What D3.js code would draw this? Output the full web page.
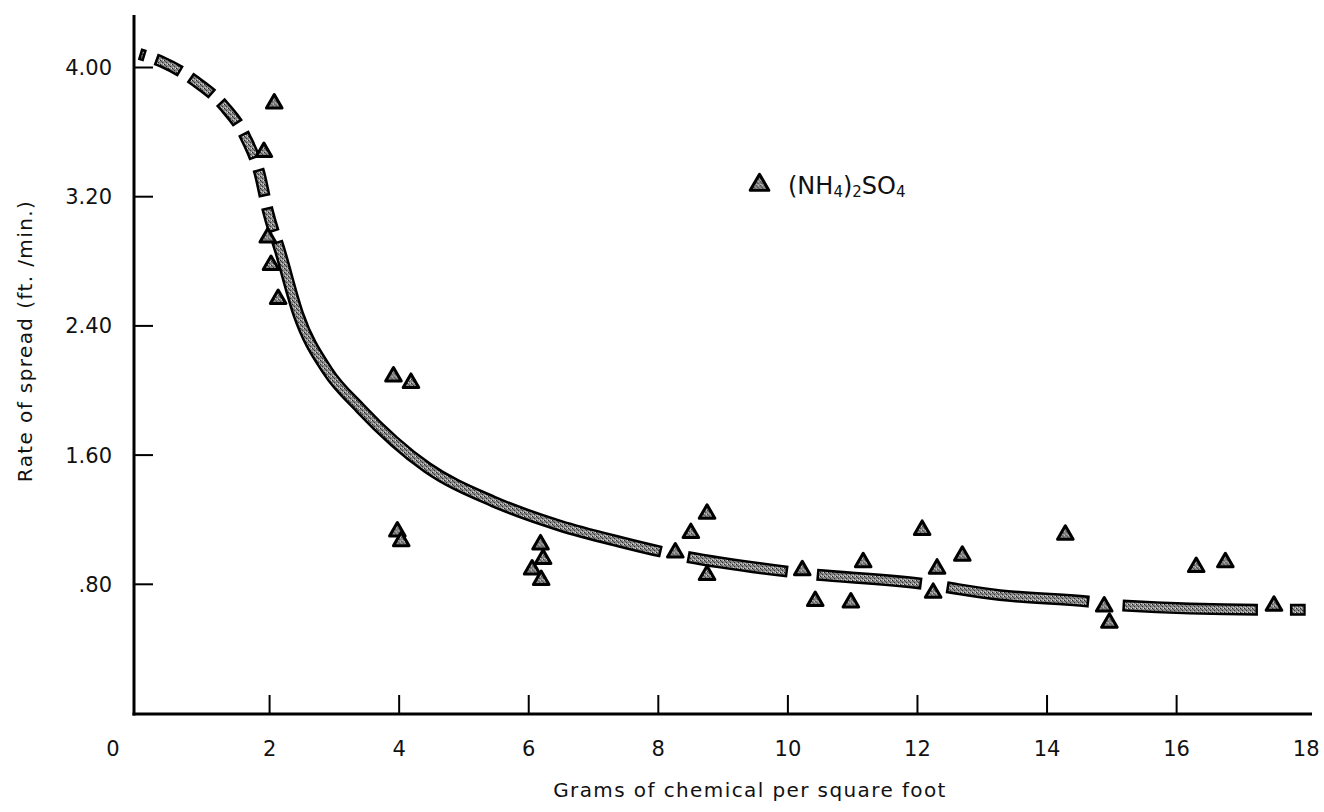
<!DOCTYPE html>
<html>
<head>
<meta charset="utf-8">
<script src="https://cdn.jsdelivr.net/npm/d3@7"></script>
<style>
    body { margin: 0; background: #fff; }
    text { font-family: "DejaVu Sans", Lato, sans-serif; fill: #111; }
</style>
</head>
<body>
<div id="chart" style="width:1324px;height:812px"></div>
<script>

// triangles, (NH4)2SO4 observations
const pointX = [2.08, 1.92, 1.98, 2.03, 2.14,
    3.92, 4.19, 3.98, 4.04, 6.19, 6.23, 6.06, 6.20,
    8.76, 8.51, 8.27, 8.76, 10.23, 10.43, 10.98, 11.17, 12.08, 12.31, 12.25, 12.70,
    14.29, 14.89, 14.97, 16.31, 16.76, 17.51];
const pointY = [3.78, 3.48, 2.95, 2.78, 2.57,
    2.09, 2.05, 1.13, 1.07, 1.05, 0.96, 0.895, 0.83,
    1.24, 1.12, 1.00, 0.86, 0.89, 0.70, 0.69, 0.94, 1.14, 0.90, 0.75, 0.98,
    1.11, 0.665, 0.565, 0.91, 0.94, 0.67];

// fitted curve
const curveX = [0, 0.36, 0.87, 1.30, 1.63, 1.86, 1.98, 2.17, 2.45, 2.90, 3.40, 4.44, 5.46, 6.49, 7.42, 8.04, 10.01, 12.09, 13.28, 14.64, 15.17, 17.26, 18.0];
const curveY = [4.08, 4.03, 3.91, 3.76, 3.57, 3.33, 3.11, 2.86, 2.47, 2.12, 1.89, 1.52, 1.31, 1.16, 1.06, 1.00, 0.875, 0.80, 0.73, 0.69, 0.665, 0.64, 0.64];

// where the curve is drawn (x ranges), first one is short dashes
const dashedPart = [0, 2.12];
const solidParts = [[2.12, 8.05], [8.45, 10.0], [10.45, 12.07], [12.45, 14.65], [15.17, 17.26], [17.75, 18.0]];

const xTicks = [0, 2, 4, 6, 8, 10, 12, 14, 16, 18];
const yTicks = [0.8, 1.6, 2.4, 3.2, 4.0];
const yTickLabels = [".80", "1.60", "2.40", "3.20", "4.00"];

class SpreadVis {

    constructor(parentElement) {
        this.parentElement = parentElement;
        this.initVis();
    }

    initVis() {
        let vis = this;

        vis.width = 1324;
        vis.height = 812;

        vis.svg = d3.select("#" + vis.parentElement).append("svg")
            .attr("width", vis.width)
            .attr("height", vis.height);

        // speckled grey used inside curve and triangles
        let pat = vis.svg.append("defs").append("pattern")
            .attr("id", "speckle")
            .attr("patternUnits", "userSpaceOnUse")
            .attr("width", 4).attr("height", 4);
        pat.append("rect").attr("width", 4).attr("height", 4).attr("fill", "#8a8a8a");
        pat.append("rect").attr("x", 0).attr("y", 0).attr("width", 1).attr("height", 1).attr("fill", "#222");
        pat.append("rect").attr("x", 2).attr("y", 2).attr("width", 1).attr("height", 1).attr("fill", "#333");
        pat.append("rect").attr("x", 1).attr("y", 1).attr("width", 1).attr("height", 1).attr("fill", "#555");
        pat.append("rect").attr("x", 3).attr("y", 0).attr("width", 1).attr("height", 1).attr("fill", "#ddd");
        pat.append("rect").attr("x", 1).attr("y", 3).attr("width", 1).attr("height", 1).attr("fill", "#ccc");

        vis.x = d3.scaleLinear().domain([0, 18]).range([139.5, 1305.7]);
        vis.y = d3.scaleLinear().domain([0, 4]).range([713, 67]);

        vis.axisX = 134;   // y axis line position
        vis.axisY = 714;   // x axis line position

        vis.updateVis();
    }

    updateVis() {
        let vis = this;

        // axis lines
        vis.svg.append("line")
            .attr("x1", vis.axisX).attr("x2", vis.axisX)
            .attr("y1", 15).attr("y2", vis.axisY + 1.5)
            .attr("stroke", "#000").attr("stroke-width", 3);
        vis.svg.append("line")
            .attr("x1", vis.axisX - 1.5).attr("x2", 1312)
            .attr("y1", vis.axisY).attr("y2", vis.axisY)
            .attr("stroke", "#000").attr("stroke-width", 3);

        // y ticks, pointing inward
        let yAxis = d3.axisLeft(vis.y)
            .tickValues(yTicks)
            .tickFormat((d, i) => yTickLabels[i])
            .tickSize(-19)
            .tickPadding(40);
        let gy = vis.svg.append("g")
            .attr("transform", `translate(${vis.axisX},0)`)
            .call(yAxis);
        gy.select(".domain").remove();
        gy.selectAll(".tick line").attr("stroke", "#000").attr("stroke-width", 2);
        gy.selectAll(".tick text")
            .style("font-size", "21px")
            .style("font-family", "'DejaVu Sans', sans-serif")
            .attr("x", 112 - vis.axisX)
            .attr("dy", "0.36em")
            .style("fill", "#111");

        // x ticks, pointing up
        let xAxis = d3.axisBottom(vis.x)
            .tickValues(xTicks)
            .tickFormat(d3.format("d"))
            .tickSize(-19)
            .tickPadding(0);
        let gx = vis.svg.append("g")
            .attr("transform", `translate(0,${vis.axisY})`)
            .call(xAxis);
        gx.select(".domain").remove();
        gx.selectAll(".tick line")
            .attr("stroke", "#000").attr("stroke-width", 2)
            .style("display", d => (d === 0 || d === 18) ? "none" : null);
        gx.selectAll(".tick text")
            .style("font-size", "21px")
            .style("font-family", "'DejaVu Sans', sans-serif")
            .attr("y", 27)
            .attr("dx", d => d === 0 ? -27 : 0)
            .style("fill", "#111");

        // axis titles
        vis.svg.append("text")
            .attr("x", 750).attr("y", 797)
            .attr("text-anchor", "middle")
            .style("font-size", "20px")
            .style("letter-spacing", "1.4px")
            .text("Grams of chemical per square foot");

        vis.svg.append("text")
            .attr("transform", "translate(32,341) rotate(-90)")
            .attr("text-anchor", "middle")
            .style("font-size", "20px")
            .style("letter-spacing", "1.4px")
            .text("Rate of spread (ft. /min.)");

        vis.drawCurve();

        // data triangles
        let tri = d3.symbol().type(d3.symbolTriangle).size(105);
        vis.svg.selectAll(".pt")
            .data(pointX.map((d, i) => ({x: d, y: pointY[i]})))
            .enter().append("path")
            .attr("class", "pt")
            .attr("d", tri)
            .attr("transform", d => `translate(${vis.x(d.x)},${vis.y(d.y) + 1})`)
            .attr("fill", "url(#speckle)")
            .attr("stroke", "#000")
            .attr("stroke-width", 3)
            .attr("stroke-linejoin", "round");

        // legend
        vis.svg.append("path")
            .attr("d", d3.symbol().type(d3.symbolTriangle).size(150)())
            .attr("transform", "translate(759.5,185)")
            .attr("fill", "url(#speckle)")
            .attr("stroke", "#000")
            .attr("stroke-width", 3)
            .attr("stroke-linejoin", "round");

        let lg = vis.svg.append("text")
            .attr("x", 788).attr("y", 194)
            .style("font-size", "24px");
        lg.append("tspan").text("(NH");
        lg.append("tspan").text("4").style("font-size", "15px").attr("dy", 3);
        lg.append("tspan").text(")").attr("dy", -3);
        lg.append("tspan").text("2").style("font-size", "15px").attr("dy", 3);
        lg.append("tspan").text("SO").attr("dy", -3);
        lg.append("tspan").text("4").style("font-size", "15px").attr("dy", 3);
    }

    drawCurve() {
        let vis = this;

        let line = d3.line()
            .x(d => vis.x(d[0]))
            .y(d => vis.y(d[1]))
            .curve(d3.curveMonotoneX);
        let pts = curveX.map((d, i) => [d, curveY[i]]);

        let outer = vis.svg.append("path")
            .attr("d", line(pts))
            .attr("fill", "none")
            .attr("stroke", "#000")
            .attr("stroke-width", 12);

        // length along the path for a given data x
        let node = outer.node();
        let total = node.getTotalLength();
        let samples = [];
        for (let l = 0; l <= total; l += 0.5) {
            samples.push([l, node.getPointAtLength(l).x]);
        }
        let lenAt = xv => {
            let px = vis.x(xv);
            let s = samples.find(p => p[1] >= px);
            return s ? s[0] : total;
        };

        // build list of drawn intervals
        let intervals = [];
        let a = lenAt(dashedPart[0]), b = lenAt(dashedPart[1]);
        intervals.push([a, a + 6]);
        for (let p = a + 17; p < b - 10; p += 39) {
            intervals.push([p, Math.min(p + 28, b - 10)]);
        }
        solidParts.forEach(s => intervals.push([lenAt(s[0]), lenAt(s[1])]));

        let dashString = (ivs, inset) => {
            let arr = [];
            let pos = 0;
            ivs.forEach(iv => {
                let s = iv[0] + inset, e = iv[1] - inset;
                if (e <= s) return;
                if (arr.length === 0) {
                    arr.push(0, s - pos);
                } else {
                    arr.push(s - pos);
                }
                arr.push(e - s);
                pos = e;
            });
            arr.push(total + 100);
            return arr.join(" ");
        };

        outer.attr("stroke-dasharray", dashString(intervals, 0));

        vis.svg.append("path")
            .attr("d", line(pts))
            .attr("fill", "none")
            .attr("stroke", "url(#speckle)")
            .attr("stroke-width", 7)
            .attr("stroke-dasharray", dashString(intervals, 2.5));
    }
}

new SpreadVis("chart");
</script>
</body>
</html>
